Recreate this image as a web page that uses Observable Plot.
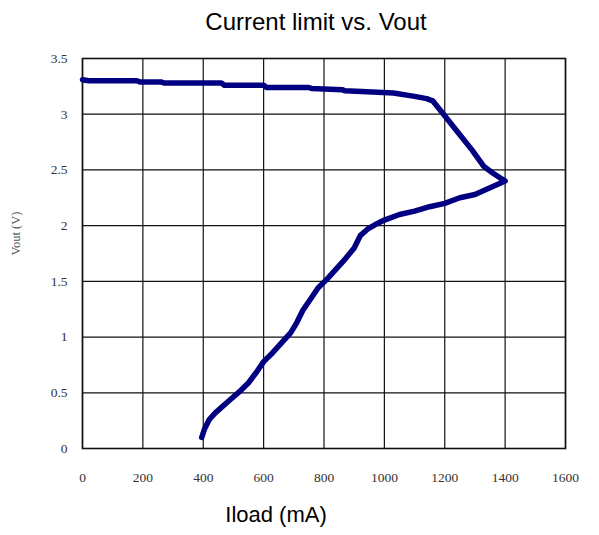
<!DOCTYPE html>
<html>
<head>
<meta charset="utf-8">
<script src="https://cdn.jsdelivr.net/npm/d3@7"></script>
<script src="https://cdn.jsdelivr.net/npm/@observablehq/plot@0.6"></script>
<style>
  body { margin: 0; background: #fff; }
  #title { height: 40px; width: 599px; font-family: "Liberation Sans", Arial, sans-serif; font-size: 24px; color: #000; position: relative; }
  #title span { position: absolute; left: 316px; top: 8px; transform: translateX(-50%); white-space: nowrap; }
</style>
</head>
<body>
<div id="title"><span>Current limit vs. Vout</span></div>
<div id="chart"></div>
<script>
// Iload (mA) along the measured trace, in drawing order
const iload = [0, 20, 180, 190, 260, 270, 460, 470, 600, 610, 750, 760, 860, 870, 960, 1030, 1100, 1140, 1160, 1190, 1240, 1290, 1330, 1360, 1400,
  1350, 1300, 1250, 1200, 1150, 1100, 1050, 1000, 970, 945, 920, 900, 870, 840, 810, 780, 755, 730, 710, 690, 660, 630, 600, 575, 550, 520, 490, 465, 440, 420, 405, 395];
// Vout (V) for each point
const vout = [3.31, 3.30, 3.30, 3.29, 3.29, 3.28, 3.28, 3.26, 3.26, 3.24, 3.24, 3.23, 3.22, 3.21, 3.20, 3.19, 3.16, 3.14, 3.12, 3.02, 2.85, 2.68, 2.53, 2.47, 2.40,
  2.34, 2.28, 2.25, 2.20, 2.17, 2.13, 2.10, 2.05, 2.01, 1.97, 1.91, 1.80, 1.70, 1.61, 1.52, 1.44, 1.34, 1.24, 1.13, 1.04, 0.95, 0.86, 0.78, 0.68, 0.59, 0.51, 0.44, 0.38, 0.32, 0.26, 0.18, 0.10];
const xTicks = [0, 200, 400, 600, 800, 1000, 1200, 1400, 1600];
const xTickLabels = ["0", "200", "400", "600", "800", "1000", "1200", "1400", "1600"];
const yTicks = [0, 0.5, 1, 1.5, 2, 2.5, 3, 3.5];
const yTickLabels = ["0", "0.5", "1", "1.5", "2", "2.5", "3", "3.5"];
const title = "Current limit vs. Vout";
const xLabel = "Iload (mA)";
const yLabel = "Vout (V)";

const data = iload.map((x, i) => ({x, y: vout[i]}));
const fmtX = (d) => xTickLabels[xTicks.indexOf(d)];
const fmtY = (d) => yTickLabels[yTicks.indexOf(d)];

const plot = Plot.plot({
  width: 599,
  height: 495,
  marginTop: 18,
  marginLeft: 82,
  marginRight: 34,
  marginBottom: 87,
  style: {fontFamily: "'Liberation Serif', serif", fontSize: "13px", color: "#333", background: "#fff", overflow: "visible"},
  x: {domain: [0, 1600], ticks: xTicks, label: null, tickFormat: fmtX},
  y: {domain: [0, 3.5], ticks: yTicks, label: null, tickFormat: fmtY},
  marks: [
    Plot.gridX(xTicks, {stroke: "#111", strokeOpacity: 1, strokeWidth: 1.2}),
    Plot.gridY(yTicks, {stroke: "#111", strokeOpacity: 1, strokeWidth: 1.2}),
    Plot.frame({stroke: "#111", strokeWidth: 1.6}),
    Plot.axisX({ticks: xTicks, tickSize: 0, tickPadding: 24, fill: "#333", fontSize: 13.5, label: null, tickFormat: fmtX}),
    Plot.axisY({ticks: yTicks, tickSize: 0, tickPadding: 15, fill: "#333", fontSize: 13.5, label: null, tickFormat: fmtY}),
    Plot.line(data, {x: "x", y: "y", stroke: "#000080", strokeWidth: 5.5, strokeLinejoin: "round", strokeLinecap: "round", curve: "linear"}),
    Plot.text([xLabel], {text: (d) => d, frameAnchor: "bottom", dx: -48, dy: 73, fontSize: 22, fill: "#000", fontFamily: "'Liberation Sans', Arial, sans-serif"}),
    Plot.text([yLabel], {text: (d) => d, frameAnchor: "left", rotate: -90, dx: -67, dy: 2, fontSize: 12.5, fill: "#555", letterSpacing: "2.5px"})
  ]
});
document.getElementById("chart").appendChild(plot);
</script>
</body>
</html>
